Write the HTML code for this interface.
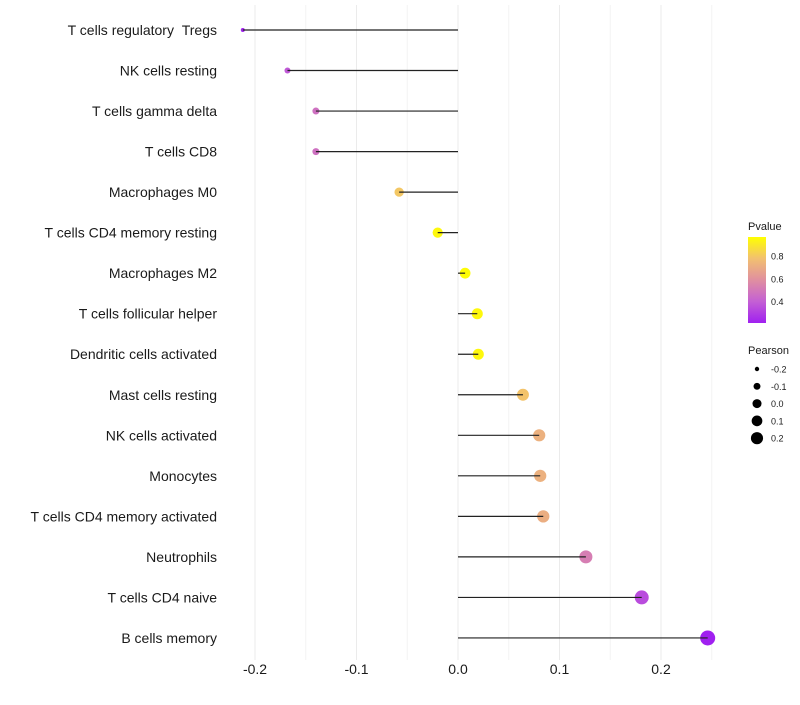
<!DOCTYPE html>
<html><head><meta charset="utf-8"><style>
body{margin:0;background:#fff;font-family:"Liberation Sans",sans-serif}
</style></head><body>
<svg id="c" width="800" height="700" xmlns="http://www.w3.org/2000/svg">
<defs><linearGradient id="pg" x1="0" y1="1" x2="0" y2="0">
<stop offset="0" stop-color="#a020f0"/><stop offset="0.25" stop-color="#c460d4"/><stop offset="0.5" stop-color="#e08fa0"/><stop offset="0.75" stop-color="#f2c070"/><stop offset="1" stop-color="#ffff00"/>
</linearGradient></defs>
</svg>
<script>
const categories=["T cells regulatory\u00a0\u00a0Tregs","NK cells resting","T cells gamma delta","T cells CD8","Macrophages M0","T cells CD4 memory resting","Macrophages M2","T cells follicular helper","Dendritic cells activated","Mast cells resting","NK cells activated","Monocytes","T cells CD4 memory activated","Neutrophils","T cells CD4 naive","B cells memory"];
const pearson=[-0.212,-0.168,-0.140,-0.140,-0.058,-0.020,0.007,0.019,0.020,0.064,0.080,0.081,0.084,0.126,0.181,0.246];
const pvalue=[0.22,0.38,0.47,0.47,0.80,0.95,0.96,0.95,0.95,0.79,0.72,0.72,0.71,0.52,0.34,0.21];
const xTicks=[-0.2,-0.1,0.0,0.1,0.2];
const xTickLabels=["-0.2","-0.1","0.0","0.1","0.2"];
const legendPearson=[-0.2,-0.1,0.0,0.1,0.2];
const legendPearsonLabels=["-0.2","-0.1","0.0","0.1","0.2"];
const cbTicks=[0.4,0.6,0.8];

const NS="http://www.w3.org/2000/svg",svg=document.getElementById('c');
function el(t,a,txt){const e=document.createElementNS(NS,t);for(const k in a)e.setAttribute(k,a[k]);if(txt!==undefined)e.textContent=txt;svg.appendChild(e);return e;}
const X=v=>458+v*1015;
const Y=i=>30+i*40.53;
const R=v=>Math.sqrt(Math.max(3,28.2+114*v));
const stops=[[0.21,[160,32,240]],[0.4,[196,96,212]],[0.59,[224,143,160]],[0.78,[242,192,112]],[0.97,[255,255,0]]];
function col(p){if(p<=stops[0][0])return 'rgb('+stops[0][1]+')';for(let i=1;i<stops.length;i++){if(p<=stops[i][0]){const t=(p-stops[i-1][0])/(stops[i][0]-stops[i-1][0]);const c=stops[i-1][1].map((a,j)=>Math.round(a+(stops[i][1][j]-a)*t));return 'rgb('+c+')';}}return 'rgb(255,255,0)';}
for(let v=-0.2;v<=0.251;v+=0.05){const major=Math.abs(Math.round(v*20))%2===0;
const g=el('line',{x1:X(v),x2:X(v),y1:5,y2:660,stroke:major?'#ebebeb':'#f4f4f4','stroke-width':1});

}
categories.forEach((c,i)=>{
const t=el('text',{x:217,y:Y(i)+5,'text-anchor':'end','font-size':14,fill:'#1a1a1a'},c);


const p=el('circle',{cx:X(pearson[i]),cy:Y(i),r:R(pearson[i]),fill:col(pvalue[i])});


const l=el('line',{x1:X(0),x2:X(pearson[i]),y1:Y(i),y2:Y(i),stroke:'#222','stroke-width':1.2});


});
xTicks.forEach((v,i)=>{
const t=el('text',{x:X(v),y:674,'text-anchor':'middle','font-size':14,fill:'#1a1a1a'},xTickLabels[i]);


});
let t=el('text',{x:748,y:230,'font-size':11,fill:'#1a1a1a'},'Pvalue');


const cb=el('rect',{x:748,y:237,width:18,height:86,fill:'url(#pg)'});


const cbY=p=>323-(p-0.21)/(0.97-0.21)*86;
cbTicks.forEach(p=>{
const tt=el('text',{x:771,y:cbY(p)+3.5,'font-size':9,fill:'#1a1a1a'},p.toFixed(1));


});
t=el('text',{x:748,y:354,'font-size':11,fill:'#1a1a1a'},'Pearson');


legendPearson.forEach((v,i)=>{
const y=369+i*17.3;
const c=el('circle',{cx:757,cy:y,r:Math.max(2.2,R(v)*0.85),fill:'#000'});


const tt=el('text',{x:771,y:y+3.5,'font-size':9,fill:'#1a1a1a'},legendPearsonLabels[i]);


});
</script>
</body></html>
